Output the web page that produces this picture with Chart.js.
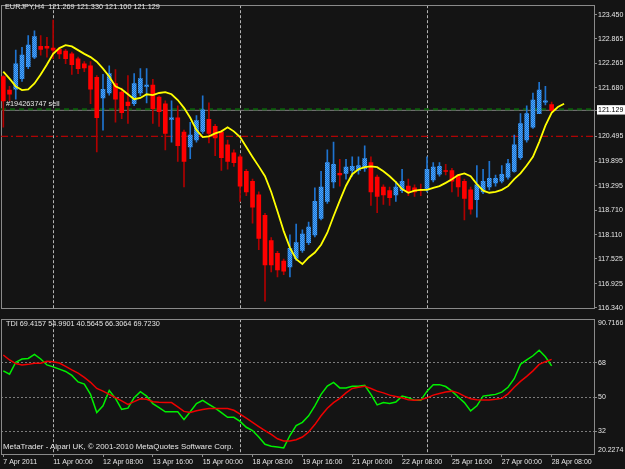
<!DOCTYPE html>
<html>
<head>
<meta charset="utf-8">
<script src="https://cdn.jsdelivr.net/npm/chart.js@4.4.0/dist/chart.umd.min.js"></script>
<style>
  html, body { margin: 0; padding: 0; background: #141414; overflow: hidden; }
  #wrap { position: relative; width: 625px; height: 469px; background: #141414; font-family: "Liberation Sans", Arial, sans-serif; }
  .box { position: absolute; left: 0; width: 625px; }
  .txt { position: absolute; color: #e6e6e6; font-size: 7.3px; line-height: 8px; white-space: pre; }
</style>
</head>
<body>
<div id="wrap">
  <div class="box" style="top:0;height:314px"><canvas id="main" width="625" height="314"></canvas></div>
  <div class="box" style="top:314px;height:155px"><canvas id="tdi" width="625" height="155"></canvas></div>
  <div class="txt" style="left:5px;top:3px">EURJPY,H4  121.269 121.330 121.100 121.129</div>
  <div class="txt" style="left:6px;top:100px">#194263747 sell</div>
  <div class="txt" style="left:6px;top:320px">TDI 69.4157 54.9901 40.5645 66.3064 69.7230</div>
  <div class="txt" style="left:3px;top:443px;font-size:7.9px">MetaTrader - Alpari UK, © 2001-2010 MetaQuotes Software Corp.</div>
</div>
<script>
// EURJPY H4 candles, one per bar (bar 0 = 7 Apr 16:00)
const opens = [121.95,121.62,121.64,121.90,122.19,122.42,122.68,122.68,122.64,122.61,
  122.57,122.50,122.38,122.26,122.21,121.93,121.43,121.55,121.78,121.57,
  121.33,121.29,121.55,121.71,121.74,121.45,121.29,120.91,120.95,120.60,
  120.24,120.41,120.62,120.91,120.74,120.60,120.29,120.10,120.00,119.65,
  119.41,119.08,118.58,117.97,117.66,117.47,117.33,117.54,117.73,117.92,
  118.11,118.51,118.92,119.39,119.60,119.60,119.67,119.67,119.72,119.86,
  119.51,119.27,119.18,119.08,119.18,119.29,119.25,119.20,119.20,119.44,
  119.58,119.67,119.67,119.56,119.41,119.20,118.96,119.15,119.27,119.37,
  119.41,119.51,119.65,119.98,120.41,120.72,121.05,121.33,121.269];
const highs = [121.97,121.71,122.59,122.66,122.94,123.06,122.94,122.90,123.32,122.66,
  122.61,122.54,122.42,122.31,122.31,121.97,122.00,122.21,122.12,121.67,
  121.97,122.02,122.14,122.14,121.88,121.48,121.36,121.36,121.24,120.65,
  120.84,121.00,121.48,121.31,120.79,120.65,120.41,120.17,120.05,119.70,
  119.46,119.15,118.63,118.04,117.71,117.52,118.11,118.37,118.23,118.42,
  119.25,119.65,120.17,120.36,119.94,119.94,120.00,120.00,120.27,120.00,
  119.56,119.32,119.27,119.41,119.70,119.46,119.32,119.34,120.00,119.86,
  119.86,119.82,119.72,119.58,119.46,119.27,119.79,119.70,119.89,119.56,
  119.79,119.94,120.53,121.05,121.24,121.55,121.81,121.71,121.330];
const lows = [120.72,121.36,121.40,121.83,122.14,122.38,122.47,122.42,122.38,122.38,
  122.26,122.00,122.02,122.07,121.29,120.12,120.65,121.50,120.84,120.93,
  120.81,121.24,121.48,121.31,120.81,120.74,120.17,120.36,119.89,119.27,
  119.96,120.36,120.57,120.34,120.03,119.67,119.70,119.77,118.92,119.06,
  118.39,117.75,116.50,117.21,117.09,117.14,117.09,117.49,117.68,117.87,
  118.06,118.47,118.87,119.25,119.29,119.46,119.53,119.58,119.65,118.82,
  118.65,118.85,118.82,118.92,119.13,119.06,119.04,119.06,119.15,119.39,
  119.53,119.56,119.15,119.04,118.47,118.61,118.54,119.11,119.20,119.29,
  119.37,119.46,119.63,119.94,120.36,120.69,121.05,121.26,121.100];
const closes = [121.36,121.52,122.26,122.47,122.71,122.92,122.61,122.64,122.59,122.50,
  122.38,122.24,122.14,122.16,121.64,120.95,121.64,122.02,121.40,121.07,
  121.24,121.78,121.90,121.74,121.17,121.10,120.57,120.95,120.27,119.89,
  120.53,120.88,121.14,120.57,120.46,119.98,119.89,119.86,119.29,119.15,
  118.78,118.02,117.38,117.38,117.26,117.23,117.78,117.92,118.13,118.30,
  118.92,119.27,119.86,119.82,119.56,119.75,119.77,119.79,119.96,119.15,
  119.04,119.08,119.01,119.27,119.41,119.15,119.15,119.18,119.70,119.75,
  119.77,119.65,119.41,119.27,118.99,118.73,119.32,119.41,119.48,119.48,
  119.58,119.84,120.29,120.81,121.05,121.38,121.62,121.36,121.129];

// shifted moving average (runs two bars past the last candle)
const movingAvg = [122.07,121.90,121.71,121.62,121.64,121.78,122.00,122.24,122.50,122.64,
  122.71,122.68,122.59,122.50,122.42,122.31,122.14,121.95,121.71,121.64,
  121.52,121.40,121.43,121.52,121.50,121.55,121.57,121.52,121.38,121.19,
  120.95,120.65,120.48,120.50,120.57,120.62,120.72,120.62,120.48,120.24,
  120.00,119.77,119.53,119.15,118.68,118.20,117.80,117.52,117.40,117.56,
  117.68,117.87,118.16,118.56,118.94,119.30,119.58,119.70,119.75,119.77,
  119.75,119.65,119.53,119.39,119.22,119.13,119.18,119.20,119.20,119.25,
  119.29,119.37,119.46,119.56,119.60,119.53,119.34,119.18,119.13,119.15,
  119.20,119.29,119.46,119.60,119.79,120.00,120.36,120.76,121.07,121.21,121.29];

// TDI lines
const tdiPrice = [63.7,62.0,68.2,69.9,70.2,72.3,69.9,66.8,65.8,64.6,
  63.4,61.3,57.9,56.8,51.4,41.9,45.4,53.4,49.3,43.6,
  44.2,49.7,52.8,50.5,46.6,44.5,42.3,42.3,42.3,38.2,
  42.3,46.6,48.3,46.2,44.2,41.9,39.4,39.4,37.3,34.2,
  32.5,29.1,25.3,24.3,23.9,23.4,29.9,35.1,36.8,40.2,
  45.4,51.4,55.7,57.7,54.8,54.8,55.7,55.7,56.2,51.4,
  45.9,47.1,46.7,47.4,50.5,49.7,48.3,48.3,53.1,56.5,
  56.5,55.5,53.1,50.0,47.1,42.8,45.4,50.5,50.9,51.4,
  52.6,55.1,59.6,67.1,69.4,71.6,74.5,71.1,66.31];
const tdiSignal = [72.0,69.4,67.5,66.8,67.1,67.7,67.7,68.7,68.5,67.8,
  66.0,64.2,62.5,60.3,57.7,54.5,53.1,51.4,49.7,48.0,
  46.2,47.6,49.1,48.8,47.6,47.3,47.1,47.1,44.9,42.5,
  41.9,42.8,43.5,44.0,44.0,44.0,44.0,43.1,41.1,39.0,
  36.8,34.6,32.5,30.5,28.2,27.0,27.0,27.7,29.1,31.7,
  35.6,40.2,44.2,47.1,49.3,52.2,54.5,55.1,55.7,54.5,
  53.1,52.2,51.0,50.3,49.6,48.6,48.3,48.6,49.6,51.0,
  51.9,52.6,53.1,52.2,50.5,49.1,48.6,48.5,48.5,48.8,
  49.3,51.7,55.1,58.2,60.8,63.7,67.1,68.5,69.72];

// axes
const timeLabels = ['7 Apr 2011','11 Apr 00:00','12 Apr 08:00','13 Apr 16:00','15 Apr 00:00','18 Apr 08:00',
  '19 Apr 16:00','21 Apr 00:00','22 Apr 08:00','25 Apr 16:00','27 Apr 00:00','28 Apr 08:00'];
const labelBars = [0,8,16,24,32,40,48,56,64,72,80,88];
const weekBars = [8,38,68];
const priceTicks = [123.450,122.865,122.265,121.680,120.495,119.895,119.295,118.710,118.110,117.525,116.925,116.340];
const lastPrice = 121.129;
const orderPrice = 121.155;
const stopPrice = 120.50;
const tdiTicks = [88.6,68,50,32,22.2];
const tdiTickLabels = ['90.7166','68','50','32','20.2274'];
const tdiLevels = [68,50,32];

const xMin = -0.37, xMax = 94.8;
const frameCol = '#8a8a8a';
const textCol = '#e6e6e6';
const font7 = { family: 'Liberation Sans', size: 7 };

Chart.defaults.font.family = 'Liberation Sans';
Chart.defaults.animation = false;

function bluePattern() {
  const c = document.createElement('canvas');
  c.width = 2; c.height = 2;
  const g = c.getContext('2d');
  g.fillStyle = '#1f74d0'; g.fillRect(0, 0, 2, 2);
  g.fillStyle = '#4aa6ff'; g.fillRect(0, 0, 1, 1); g.fillRect(1, 1, 1, 1);
  return g.createPattern(c, 'repeat');
}

function xAxis(withLabels) {
  const allTicks = labelBars.concat(weekBars.filter(b => !labelBars.includes(b))).sort((a, b) => a - b);
  return {
    type: 'linear', position: 'bottom', min: xMin, max: xMax, offset: false,
    afterBuildTicks: s => { s.ticks = allTicks.map(v => ({ value: v })); },
    afterFit: s => { s.height = withLabels ? 15 : 0; },
    grid: {
      offset: false,
      color: c => (c.tick && weekBars.includes(c.tick.value)) ? '#b4b4b4' : 'rgba(0,0,0,0)',
      drawTicks: withLabels, tickLength: 3,
      tickColor: c => (c.tick && labelBars.includes(c.tick.value)) ? frameCol : 'rgba(0,0,0,0)'
    },
    border: { color: frameCol, dash: [3, 2] },
    ticks: {
      display: withLabels, autoSkip: false, maxRotation: 0, minRotation: 0,
      align: 'start', padding: 1, color: textCol, font: font7,
      callback: v => { const k = labelBars.indexOf(v); return k >= 0 ? timeLabels[k] : ''; }
    }
  };
}

function frameAxes() {
  return {
    xt: { type: 'linear', position: 'top', min: 0, max: 1,
      grid: { display: false, drawTicks: false }, ticks: { display: false },
      border: { color: frameCol }, afterFit: s => { s.height = 0; } },
    yl: { type: 'linear', position: 'left', min: 0, max: 1,
      grid: { display: false, drawTicks: false }, ticks: { display: false },
      border: { color: frameCol }, afterFit: s => { s.width = 0; } }
  };
}

const bars = opens.map((_, i) => i);
const isUp = bars.map(i => closes[i] >= opens[i]);
const pat = bluePattern();

new Chart(document.getElementById('main'), {
  type: 'bar',
  data: {
    datasets: [
      { type: 'line', label: 'MA', data: movingAvg.map((v, i) => ({ x: i, y: v })),
        borderColor: '#ffff00', borderWidth: 1.8, pointRadius: 0, tension: 0, order: 0,
        xAxisID: 'x', yAxisID: 'y' },
      { type: 'bar', label: 'bodies', data: bars.map(i => ({ x: i, y: [opens[i], closes[i]] })),
        backgroundColor: isUp.map(u => u ? pat : '#ff0000'), barThickness: 4, grouped: false, order: 1,
        xAxisID: 'x', yAxisID: 'y' },
      { type: 'bar', label: 'wicks', data: bars.map(i => ({ x: i, y: [lows[i], highs[i]] })),
        backgroundColor: isUp.map(u => u ? '#1f74d0' : '#b00000'), barThickness: 1, grouped: false, order: 2,
        xAxisID: 'x', yAxisID: 'y' },
      { type: 'line', label: 'bid', data: [{ x: xMin, y: lastPrice }, { x: xMax, y: lastPrice }],
        borderColor: '#7c7c7c', borderWidth: 1, pointRadius: 0, order: 4, xAxisID: 'x', yAxisID: 'y' },
      { type: 'line', label: 'order', data: [{ x: xMin, y: orderPrice }, { x: xMax, y: orderPrice }],
        borderColor: '#0d5e0d', borderWidth: 2, borderDash: [5, 4], pointRadius: 0, order: 3,
        xAxisID: 'x', yAxisID: 'y' },
      { type: 'line', label: 'stop', data: [{ x: xMin, y: stopPrice }, { x: xMax, y: stopPrice }],
        borderColor: '#d80000', borderWidth: 1, borderDash: [7, 3, 2, 3], pointRadius: 0, order: 5,
        xAxisID: 'x', yAxisID: 'y' }
    ]
  },
  options: {
    responsive: false,
    layout: { padding: { left: 1, right: 0, top: 2, bottom: 1 } },
    plugins: { legend: { display: false }, tooltip: { enabled: false } },
    scales: Object.assign({
      x: xAxis(false),
      y: {
        type: 'linear', position: 'right', min: 116.315, max: 123.68,
        afterBuildTicks: s => { s.ticks = priceTicks.concat([lastPrice]).sort((a, b) => b - a).map(v => ({ value: v })); },
        afterFit: s => { s.width = 31; },
        grid: { drawOnChartArea: false, tickLength: 3, tickColor: frameCol },
        border: { color: frameCol },
        ticks: {
          autoSkip: false, padding: 1, font: font7,
          color: c => c.tick.value === lastPrice ? '#000000' : textCol,
          showLabelBackdrop: true,
          backdropColor: c => c.tick.value === lastPrice ? '#ffffff' : 'rgba(0,0,0,0)',
          backdropPadding: { top: 1, bottom: 0, left: 1, right: 4 },
          callback: v => v.toFixed(3)
        }
      }
    }, frameAxes())
  }
});

new Chart(document.getElementById('tdi'), {
  type: 'line',
  data: {
    datasets: [
      { label: 'price', data: tdiPrice.map((v, i) => ({ x: i, y: v })), borderColor: '#00f000',
        borderWidth: 1.5, pointRadius: 0, tension: 0, order: 1, xAxisID: 'x', yAxisID: 'y' },
      { label: 'signal', data: tdiSignal.map((v, i) => ({ x: i, y: v })), borderColor: '#ee0000',
        borderWidth: 1.5, pointRadius: 0, tension: 0, order: 0, xAxisID: 'x', yAxisID: 'y' }
    ]
  },
  options: {
    responsive: false,
    layout: { padding: { left: 1, right: 0, top: 3, bottom: 0 } },
    plugins: { legend: { display: false }, tooltip: { enabled: false } },
    scales: Object.assign({
      x: xAxis(true),
      y: {
        type: 'linear', position: 'right', min: 20.2274, max: 90.7166,
        afterBuildTicks: s => { s.ticks = tdiTicks.map(v => ({ value: v })); },
        afterFit: s => { s.width = 31; },
        grid: {
          color: c => (c.tick && tdiLevels.includes(c.tick.value)) ? '#7c7c7c' : 'rgba(0,0,0,0)',
          tickLength: 3,
          tickColor: c => (c.tick && tdiLevels.includes(c.tick.value)) ? frameCol : 'rgba(0,0,0,0)'
        },
        border: { color: frameCol, dash: [2, 2] },
        ticks: {
          autoSkip: false, padding: 1, font: font7, color: textCol,
          callback: v => { const k = tdiTicks.indexOf(v); return k >= 0 ? tdiTickLabels[k] : ''; }
        }
      }
    }, frameAxes())
  }
});
</script>
</body>
</html>
